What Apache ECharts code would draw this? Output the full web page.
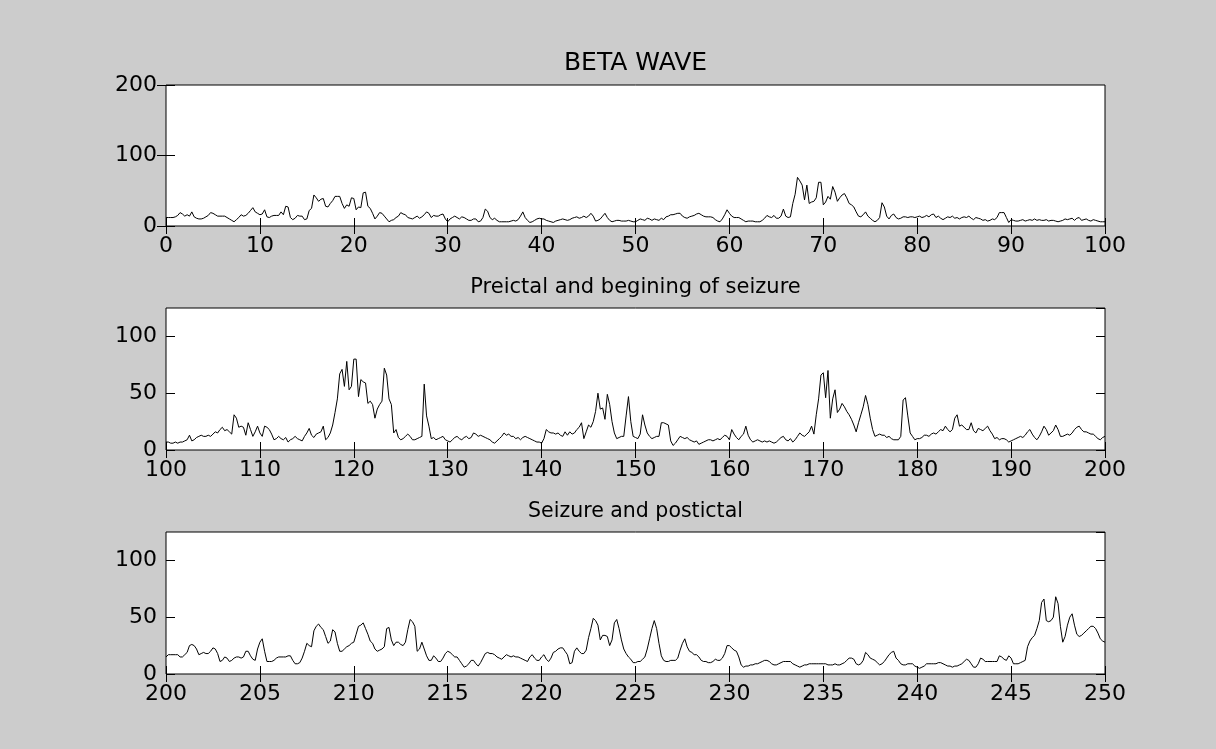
<!DOCTYPE html>
<html>
<head>
<meta charset="utf-8">
<title>BETA WAVE</title>
<script src="https://cdn.jsdelivr.net/npm/echarts@6/dist/echarts.min.js"></script>
<style>
html,body{margin:0;padding:0;background:#cccccc;}
#chartsObj_BETA{width:1216px;height:749px;}
</style>
</head>
<body>
<div id="chartsObj_BETA"></div>
<script>
// sampling of each trace: first x and step between samples
var startList = [0, 100, 200];
var stepList = [0.25, 0.25, 0.125];
var xMinList = [0, 100, 200];
var xMaxList = [100, 200, 250];
var xTickList = [10, 10, 5];
var yMaxList = [200, 125, 125];
var yTickList = [100, 50, 50];
var titleList = ['BETA WAVE', 'Preictal and begining of seizure', 'Seizure and postictal'];

// 0 - 100
var beta1 = [
    12,12,12,12, 13,15,19,17, 14,16,14,20, 13,11,10,10, 11,13,15,19,
    18,16,14,14, 14,14,12,10, 8,6,9,12, 16,14,15,18, 22,26,20,18,
    16,17,23,13, 12,14,15,15, 15,20,16,28, 27,12,9,11, 15,14,14,9,
    10,22,25,44, 40,35,38,39, 28,27,32,36, 42,42,42,32, 25,30,28,40,
    39,23,27,26, 47,48,28,25, 18,10,14,19, 18,14,10,6, 8,9,12,14,
    19,17,16,12, 11,10,12,14, 11,13,16,20, 18,12,15,14, 14,16,17,10,
    6,10,12,14, 12,10,13,12, 10,8,8,10, 10,6,7,12, 24,21,12,9,
    11,8,6,6, 6,6,6,7, 8,7,9,14, 20,12,8,5, 6,8,10,11,
    10,10,8,7, 6,5,7,8, 9,10,9,8, 9,11,12,13, 11,12,14,12,
    14,18,14,7, 8,10,14,18, 12,8,6,7, 8,8,7,7, 7,8,7,6,
    6,8,10,9, 8,11,10,8, 10,9,8,11, 9,13,14,16, 16,17,18,18,
    14,12,11,13, 14,15,17,18, 16,14,13,13, 13,12,9,7, 6,10,16,23,
    18,14,12,12, 12,10,8,6, 7,7,7,6, 6,6,8,11, 15,13,12,15,
    11,11,14,24, 14,12,13,32, 45,69,64,58, 37,58,32,34, 35,40,62,62,
    30,34,42,38, 56,48,35,40, 44,46,40,32, 30,27,20,14, 13,16,20,14,
    11,8,6,8, 12,33,27,14, 10,15,17,12, 10,11,13,13, 12,13,13,12,
    13,14,12,13, 15,13,16,17, 12,14,11,9, 11,13,12,14, 11,12,10,12,
    13,12,14,11, 9,12,11,10, 8,9,7,8, 10,9,12,19, 19,19,12,5,
    9,8,7,7, 8,9,7,8, 9,8,10,8, 9,8,8,9, 7,8,8,7,
    6,7,8,10, 9,10,11,8, 11,12,8,9, 10,8,7,9, 8,7,6,6,
    6
];

// 100 - 200
var beta2 = [
    7,7,6,6, 7,6,7,7, 8,9,13,8, 9,11,12,13, 12,12,13,12,
    14,16,15,18, 20,17,18,16, 14,31,28,20, 21,20,13,24, 18,12,16,21,
    15,12,21,20, 18,14,9,10, 12,10,9,11, 7,9,10,12, 10,9,8,12,
    15,19,13,11, 14,15,16,21, 9,11,15,22, 33,45,67,71, 56,78,53,56,
    80,80,47,62, 60,59,41,43, 40,28,36,40, 43,72,66,45, 40,15,18,11,
    9,10,12,14, 12,9,9,10, 11,12,58,30, 21,10,11,9, 10,11,12,9,
    8,7,9,11, 12,10,9,11, 12,10,11,15, 14,12,13,12, 11,10,9,7,
    6,8,10,12, 15,13,14,12, 12,10,11,9, 11,12,11,10, 9,8,7,7,
    6,10,18,16, 15,15,14,15, 13,12,16,13, 16,14,15,18, 20,24,10,16,
    22,20,25,34, 50,36,37,27, 49,40,25,15, 10,11,12,12, 30,47,25,12,
    11,10,14,31, 22,15,12,10, 11,12,12,24, 24,23,22,8, 4,6,9,12,
    11,10,11,9, 8,7,8,5, 6,7,8,9, 9,8,9,10, 9,11,13,12,
    9,18,14,11, 9,12,14,21, 13,9,7,8, 9,8,7,8, 7,8,7,6,
    7,9,11,12, 9,8,10,7, 9,12,15,13, 12,14,16,21, 14,31,45,66,
    68,46,70,28, 45,53,33,36, 41,38,34,31, 27,22,16,24, 31,38,48,40,
    28,18,12,13, 14,13,13,11, 12,10,9,9, 9,12,44,46, 30,15,12,9,
    10,10,11,13, 13,12,14,15, 14,16,18,17, 21,18,16,18, 28,31,21,22,
    20,18,18,24, 17,15,19,18, 17,19,21,17, 14,10,11,9, 10,10,9,7,
    8,9,10,11, 12,11,13,16, 18,14,11,9, 12,16,21,18, 13,15,17,22,
    18,12,12,13, 14,13,15,18, 20,21,18,16, 16,15,14,14, 12,10,9,11,
    12
];

// 200 - 250
var beta3 = [
    15,17,17,17,17,17,15,15, 17,19,25,26,25,22,17,18, 19,18,18,20,23,22,18,11,
    12,15,14,11,12,14,15,15, 14,15,20,20,16,13,12,22, 28,31,20,11,11,11,12,14,
    15,15,15,15,16,16,12,9, 9,10,14,20,27,25,24,38, 42,44,41,39,33,27,29,39,
    37,27,20,20,22,24,25,27, 28,35,42,43,45,40,35,29, 27,22,20,21,22,24,40,41,
    30,25,28,28,26,25,28,39, 48,46,42,20,22,28,22,16, 12,12,16,14,11,11,14,18,
    20,19,17,15,15,12,9,6, 7,9,12,12,9,7,10,14, 18,19,18,18,17,15,14,13,
    15,17,16,15,16,15,15,14, 13,12,11,15,17,14,12,12, 15,17,13,11,14,19,20,22,
    23,23,20,17,9,10,20,23, 20,18,18,21,32,40,49,47, 43,30,34,34,33,25,30,45,
    48,40,30,22,18,15,13,10, 10,11,11,13,15,22,31,40, 47,40,27,16,12,11,11,12,
    12,12,14,21,27,31,24,20, 19,17,17,15,12,11,11,10, 10,11,13,12,12,14,18,25,
    25,23,21,20,15,8,6,7, 7,8,8,9,9,10,11,12, 12,11,9,8,8,9,10,11,
    11,11,11,9,8,7,6,7, 8,8,9,9,9,9,9,9, 9,9,8,8,8,9,8,8,
    9,10,12,14,14,13,9,8, 9,12,19,17,14,13,12,10, 8,9,11,14,17,19,20,14,
    12,9,8,8,9,9,9,7, 6,5,6,7,9,9,9,9, 9,10,10,9,8,7,7,6,
    7,7,8,9,11,13,12,9, 6,6,9,14,13,11,11,11, 11,11,11,16,15,13,12,16,
    14,9,9,9,10,11,12,24, 29,32,34,40,47,63,66,47, 46,47,50,68,62,42,28,33,
    43,50,53,43,35,33,34,36, 38,40,42,42,40,36,31,29,
    28
];

var seriesData = [beta1, beta2, beta3];
var gridTop = [85, 308, 532];
var gridHeight = [141, 142, 142];
var titleTop = [51, 277, 501];
var titleSize = [25, 21, 20.5];
var fontName = 'DejaVu Sans';

function toPairs(list, start, step){
    return list.map(function(v, i){ return [start + i * step, v]; });
}

var grid = [], xAxis = [], yAxis = [], series = [], title = [];
for (var i = 0; i < 3; i++) {
    grid.push({
        left: 166, width: 939, top: gridTop[i], height: gridHeight[i],
        show: true, backgroundColor: '#ffffff', borderColor: '#000000', borderWidth: 1
    });
    title.push({
        text: titleList[i], left: 635.5, top: titleTop[i], textAlign: 'center', padding: 0,
        textStyle: { fontFamily: fontName, fontSize: titleSize[i], fontWeight: 'normal', color: '#000' }
    });
    var xBase = {
        gridIndex: i, type: 'value', min: xMinList[i], max: xMaxList[i], interval: xTickList[i],
        axisLine: { show: false },
        axisTick: { inside: true, length: 8, lineStyle: { color: '#000', width: 1 } },
        splitLine: { show: false }
    };
    xAxis.push(Object.assign({}, xBase, {
        position: 'bottom',
        axisLabel: { margin: 9, color: '#000', fontSize: 22, fontFamily: fontName, showMinLabel: true, showMaxLabel: true }
    }));
    xAxis.push(Object.assign({}, xBase, { position: 'top', axisLabel: { show: false } }));

    var yBase = {
        gridIndex: i, type: 'value', min: 0, max: yMaxList[i], interval: yTickList[i],
        axisLine: { show: false },
        axisTick: { inside: true, length: 9, lineStyle: { color: '#000', width: 1 } },
        splitLine: { show: false }
    };
    yAxis.push(Object.assign({}, yBase, {
        position: 'left',
        axisLabel: { margin: 9, color: '#000', fontSize: 22, fontFamily: fontName, showMaxLabel: i == 0 }
    }));
    yAxis.push(Object.assign({}, yBase, { position: 'right', axisLabel: { show: false } }));

    series.push({
        type: 'line', xAxisIndex: i * 2, yAxisIndex: i * 2,
        symbol: 'none', showSymbol: false,
        lineStyle: { color: '#000', width: 1 },
        data: toPairs(seriesData[i], startList[i], stepList[i])
    });
}

var betaChart = echarts.init(document.getElementById('chartsObj_BETA'));
betaChart.setOption({
    backgroundColor: '#cccccc',
    animation: false,
    title: title,
    grid: grid,
    xAxis: xAxis,
    yAxis: yAxis,
    series: series
});
</script>
</body>
</html>
